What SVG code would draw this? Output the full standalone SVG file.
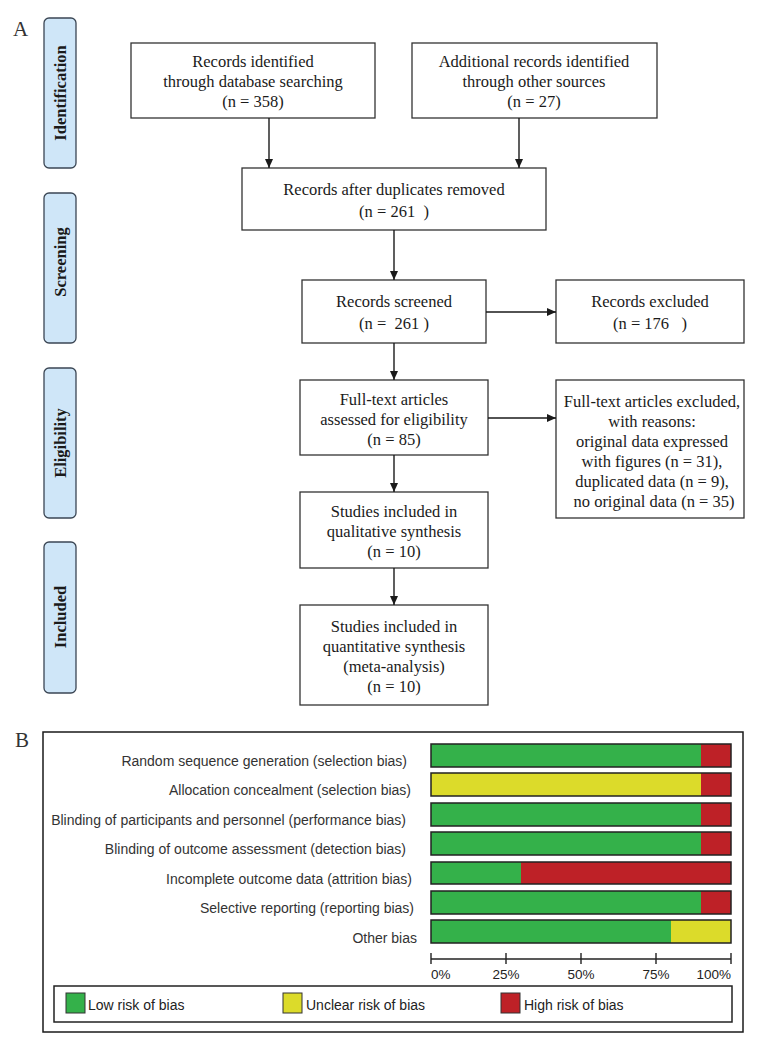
<svg xmlns="http://www.w3.org/2000/svg" width="771" height="1052" viewBox="0 0 771 1052">
<style>
.bg{fill:#ffffff}
.box{fill:#ffffff;stroke:#333333;stroke-width:1.3}
.side{fill:#cfe6f8;stroke:#3b4654;stroke-width:1.3}
.t{font-family:"Liberation Serif","Times New Roman",serif;font-size:16.5px;fill:#1a1a1a;text-anchor:middle;white-space:pre}
.st{font-family:"Liberation Serif","Times New Roman",serif;font-size:16.5px;font-weight:bold;fill:#1a1a1a;text-anchor:middle}
.pl{font-family:"Liberation Serif","Times New Roman",serif;font-size:21px;fill:#333333}
.conn{stroke:#1a1a1a;stroke-width:1.4;fill:none}
.lab{font-family:"Liberation Sans",Arial,sans-serif;font-size:14px;fill:#333333;text-anchor:end}
.ax{font-family:"Liberation Sans",Arial,sans-serif;font-size:13.5px;fill:#222222}
.leg{font-family:"Liberation Sans",Arial,sans-serif;font-size:14px;fill:#222222}
.g{fill:#34b14a}
.y{fill:#dcdb2a}
.r{fill:#be2127}
.bar{fill:none;stroke:#222222;stroke-width:1.5}
</style>
<defs>
<marker id="ah" markerUnits="userSpaceOnUse" markerWidth="10" markerHeight="9" refX="9" refY="4" orient="auto">
<path d="M0,0 L9,4 L0,8 z" fill="#1a1a1a"/>
</marker>
</defs>
<rect class="bg" x="0" y="0" width="771" height="1052"/>

<text class="pl" x="13" y="36">A</text>
<text class="pl" x="15" y="747">B</text>

<g id="stage-identification">
<rect class="side" x="44" y="18" width="32" height="150" rx="5"/>
<text class="st" transform="translate(66,93) rotate(-90)">Identification</text>
</g>
<g id="stage-screening">
<rect class="side" x="44" y="193" width="32" height="150" rx="5"/>
<text class="st" transform="translate(66,262) rotate(-90)">Screening</text>
</g>
<g id="stage-eligibility">
<rect class="side" x="44" y="368" width="32" height="150" rx="5"/>
<text class="st" transform="translate(66,443) rotate(-90)">Eligibility</text>
</g>
<g id="stage-included">
<rect class="side" x="44" y="542" width="32" height="151" rx="5"/>
<text class="st" transform="translate(66,617) rotate(-90)">Included</text>
</g>

<g id="n-db">
<rect class="box" x="131" y="43" width="244" height="75"/>
<text class="t" x="253" y="67">Records identified</text>
<text class="t" x="253" y="87">through database searching</text>
<text class="t" x="253" y="107">(n = 358)</text>
</g>
<g id="n-other">
<rect class="box" x="412" y="43" width="245" height="75"/>
<text class="t" x="534" y="67">Additional records identified</text>
<text class="t" x="534" y="87">through other sources</text>
<text class="t" x="534" y="107">(n = 27)</text>
</g>
<g id="n-dup">
<rect class="box" x="242" y="168" width="304" height="62"/>
<text class="t" x="394" y="195">Records after duplicates removed</text>
<text class="t" x="394" y="217">(n = 261  )</text>
</g>
<g id="n-screened">
<rect class="box" x="302" y="280" width="184" height="63"/>
<text class="t" x="394" y="307">Records screened</text>
<text class="t" x="394" y="329">(n =  261 )</text>
</g>
<g id="n-excluded">
<rect class="box" x="556" y="280" width="188" height="63"/>
<text class="t" x="650" y="307">Records excluded</text>
<text class="t" x="650" y="329">(n = 176   )</text>
</g>
<g id="n-fulltext">
<rect class="box" x="300" y="380" width="188" height="75"/>
<text class="t" x="394" y="405">Full-text articles</text>
<text class="t" x="394" y="425">assessed for eligibility</text>
<text class="t" x="394" y="445">(n = 85)</text>
</g>
<g id="n-ftexcluded">
<rect class="box" x="556" y="380" width="188" height="138"/>
<text class="t" x="652" y="407">Full-text articles excluded,</text>
<text class="t" x="652" y="427">with reasons:</text>
<text class="t" x="652" y="447">original data expressed</text>
<text class="t" x="652" y="467">with figures (n = 31),</text>
<text class="t" x="652" y="487">duplicated data (n = 9),</text>
<text class="t" x="654" y="507">no original data (n = 35)</text>
</g>
<g id="n-qual">
<rect class="box" x="300" y="492" width="188" height="76"/>
<text class="t" x="394" y="517">Studies included in</text>
<text class="t" x="394" y="537">qualitative synthesis</text>
<text class="t" x="394" y="557">(n = 10)</text>
</g>
<g id="n-quant">
<rect class="box" x="300" y="605" width="188" height="100"/>
<text class="t" x="394" y="632">Studies included in</text>
<text class="t" x="394" y="652">quantitative synthesis</text>
<text class="t" x="394" y="672">(meta-analysis)</text>
<text class="t" x="394" y="692">(n = 10)</text>
</g>

<g id="connectors">
<line class="conn" x1="269" y1="118" x2="269" y2="168" marker-end="url(#ah)"/>
<line class="conn" x1="519" y1="118" x2="519" y2="168" marker-end="url(#ah)"/>
<line class="conn" x1="394" y1="230" x2="394" y2="280" marker-end="url(#ah)"/>
<line class="conn" x1="486" y1="312" x2="556" y2="312" marker-end="url(#ah)"/>
<line class="conn" x1="394" y1="343" x2="394" y2="380" marker-end="url(#ah)"/>
<line class="conn" x1="488" y1="418" x2="556" y2="418" marker-end="url(#ah)"/>
<line class="conn" x1="394" y1="455" x2="394" y2="492" marker-end="url(#ah)"/>
<line class="conn" x1="394" y1="568" x2="394" y2="605" marker-end="url(#ah)"/>
</g>

<g id="risk-of-bias">
<rect x="43" y="732" width="700" height="300" fill="#ffffff" stroke="#1a1a1a" stroke-width="1.5"/>

<text class="lab" x="407" y="766">Random sequence generation (selection bias)</text>
<text class="lab" x="411" y="795">Allocation concealment (selection bias)</text>
<text class="lab" x="406" y="825">Blinding of participants and personnel (performance bias)</text>
<text class="lab" x="406" y="854">Blinding of outcome assessment (detection bias)</text>
<text class="lab" x="412" y="884">Incomplete outcome data (attrition bias)</text>
<text class="lab" x="414" y="913">Selective reporting (reporting bias)</text>
<text class="lab" x="417" y="943">Other bias</text>

<rect class="g" x="431" y="744" width="270" height="23"/><rect class="r" x="701" y="744" width="30" height="23"/><rect class="bar" x="431" y="744" width="300" height="23"/>
<rect class="y" x="431" y="773" width="270" height="23"/><rect class="r" x="701" y="773" width="30" height="23"/><rect class="bar" x="431" y="773" width="300" height="23"/>
<rect class="g" x="431" y="803" width="270" height="23"/><rect class="r" x="701" y="803" width="30" height="23"/><rect class="bar" x="431" y="803" width="300" height="23"/>
<rect class="g" x="431" y="832" width="270" height="23"/><rect class="r" x="701" y="832" width="30" height="23"/><rect class="bar" x="431" y="832" width="300" height="23"/>
<rect class="g" x="431" y="862" width="90" height="22"/><rect class="r" x="521" y="862" width="210" height="22"/><rect class="bar" x="431" y="862" width="300" height="22"/>
<rect class="g" x="431" y="891" width="270" height="23"/><rect class="r" x="701" y="891" width="30" height="23"/><rect class="bar" x="431" y="891" width="300" height="23"/>
<rect class="g" x="431" y="920" width="240" height="23"/><rect class="y" x="671" y="920" width="60" height="23"/><rect class="bar" x="431" y="920" width="300" height="23"/>

<g stroke="#222222" stroke-width="1.4">
<line x1="431" y1="959" x2="731" y2="959"/>
<line x1="431" y1="953" x2="431" y2="964"/>
<line x1="506" y1="953" x2="506" y2="964"/>
<line x1="581" y1="953" x2="581" y2="964"/>
<line x1="656" y1="953" x2="656" y2="964"/>
<line x1="731" y1="953" x2="731" y2="964"/>
</g>
<text class="ax" x="431" y="979">0%</text>
<text class="ax" x="506" y="979" text-anchor="middle">25%</text>
<text class="ax" x="581" y="979" text-anchor="middle">50%</text>
<text class="ax" x="656" y="979" text-anchor="middle">75%</text>
<text class="ax" x="731" y="979" text-anchor="end">100%</text>

<rect x="54" y="986" width="678" height="36" fill="#ffffff" stroke="#222222" stroke-width="1.5"/>
<rect class="g" x="66" y="993" width="19" height="20" stroke="#333333" stroke-width="1"/>
<text class="leg" x="88" y="1010">Low risk of bias</text>
<rect class="y" x="283" y="993" width="19" height="20" stroke="#333333" stroke-width="1"/>
<text class="leg" x="306" y="1010">Unclear risk of bias</text>
<rect class="r" x="501" y="993" width="19" height="20" stroke="#333333" stroke-width="1"/>
<text class="leg" x="524" y="1010">High risk of bias</text>
</g>
</svg>
